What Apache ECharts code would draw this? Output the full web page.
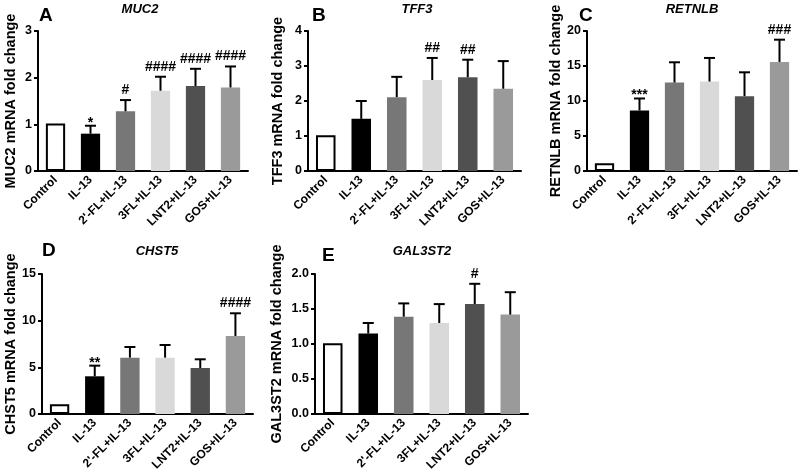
<!DOCTYPE html>
<html>
<head>
<meta charset="utf-8">
<script src="https://cdn.jsdelivr.net/npm/echarts@6/dist/echarts.min.js"></script>
<style>html,body{margin:0;padding:0;background:#fff}#c{width:800px;height:475px}</style>
</head>
<body>
<div id="c"></div>
<script>
const categories = ['Control', 'IL-13', "2'-FL+IL-13", '3FL+IL-13', 'LNT2+IL-13', 'GOS+IL-13'];
const barColors = ['#ffffff', '#000000', '#777777', '#d9d9d9', '#505050', '#9a9a9a'];

const muc2Mean = [1.02, 0.80, 1.28, 1.72, 1.82, 1.79];
const muc2Err  = [0, 0.17, 0.24, 0.30, 0.37, 0.45];
const muc2Sig  = ['', '*', '#', '####', '####', '####'];

const tff3Mean = [1.02, 1.49, 2.11, 2.60, 2.68, 2.35];
const tff3Err  = [0, 0.51, 0.58, 0.63, 0.50, 0.79];
const tff3Sig  = ['', '', '', '##', '##', ''];

const retnlbMean = [1.09, 8.65, 12.64, 12.78, 10.69, 15.58];
const retnlbErr  = [0, 1.71, 2.89, 3.37, 3.41, 3.18];
const retnlbSig  = ['', '***', '', '', '', '###'];

const chst5Mean = [1.05, 4.04, 6.04, 6.04, 4.93, 8.36];
const chst5Err  = [0, 1.14, 1.14, 1.35, 0.93, 2.43];
const chst5Sig  = ['', '**', '', '', '', '####'];

const gal3st2Mean = [1.01, 1.15, 1.39, 1.30, 1.57, 1.42];
const gal3st2Err  = [0, 0.15, 0.19, 0.27, 0.29, 0.32];
const gal3st2Sig  = ['', '', '', '', '#', ''];

const panels = [
  {letter: 'A', gene: 'MUC2', yName: 'MUC2 mRNA fold change', mean: muc2Mean, err: muc2Err, sig: muc2Sig, max: 3, interval: 1, dec: 0, gap: 20,
   grid: {left: 38, top: 31, width: 210, height: 140}, letterPos: [39, 6], genePos: [140, 3]},
  {letter: 'B', gene: 'TFF3', yName: 'TFF3 mRNA fold change', mean: tff3Mean, err: tff3Err, sig: tff3Sig, max: 4, interval: 1, dec: 0, gap: 23,
   grid: {left: 308, top: 31, width: 213, height: 140}, letterPos: [312, 6], genePos: [417, 3]},
  {letter: 'C', gene: 'RETNLB', yName: 'RETNLB mRNA fold change', mean: retnlbMean, err: retnlbErr, sig: retnlbSig, max: 20, interval: 5, dec: 0, gap: 24,
   grid: {left: 587, top: 31, width: 210, height: 140}, letterPos: [579, 6], genePos: [692, 3]},
  {letter: 'D', gene: 'CHST5', yName: 'CHST5 mRNA fold change', mean: chst5Mean, err: chst5Err, sig: chst5Sig, max: 15, interval: 5, dec: 0, gap: 24,
   grid: {left: 42, top: 274, width: 211, height: 140}, letterPos: [42, 241], genePos: [157, 245]},
  {letter: 'E', gene: 'GAL3ST2', yName: 'GAL3ST2 mRNA fold change', mean: gal3st2Mean, err: gal3st2Err, sig: gal3st2Sig, max: 2, interval: 0.5, dec: 1, gap: 31,
   grid: {left: 315, top: 274, width: 213, height: 140}, letterPos: [322, 246], genePos: [422, 245]}
];

const FONT = 'Arial, "Liberation Sans", Helvetica, sans-serif';
const grids = [], xAxes = [], yAxes = [], series = [], titles = [];

panels.forEach((p, i) => {
  grids.push(Object.assign({outerBoundsMode: 'none', containLabel: false}, p.grid));
  xAxes.push({
    type: 'category', gridIndex: i, data: categories,
    axisLine: {lineStyle: {color: '#000', width: 2}},
    axisTick: {alignWithLabel: true, length: 5, lineStyle: {color: '#000', width: 2}},
    axisLabel: {rotate: 45, margin: 7, color: '#000', fontWeight: 'bold', fontSize: 12, fontFamily: FONT, interval: 0}
  });
  yAxes.push({
    type: 'value', gridIndex: i, min: 0, max: p.max, interval: p.interval,
    name: p.yName, nameLocation: 'middle', nameGap: p.gap,
    nameTextStyle: {color: '#000', fontWeight: 'bold', fontSize: 14.5, fontFamily: FONT},
    axisLine: {show: true, lineStyle: {color: '#000', width: 2}},
    axisTick: {show: true, length: 4, lineStyle: {color: '#000', width: 2}},
    splitLine: {show: false},
    axisLabel: {margin: 6, color: '#000', fontWeight: 'bold', fontSize: 12.5, fontFamily: FONT,
      formatter: v => v.toFixed(p.dec)}
  });
  series.push({
    type: 'bar', xAxisIndex: i, yAxisIndex: i, barWidth: '55%',
    data: p.mean.map((v, k) => ({
      value: v,
      itemStyle: {color: barColors[k], borderColor: k === 0 ? '#000' : barColors[k], borderWidth: k === 0 ? 2 : 0}
    }))
  });
  const sig = p.sig;
  series.push({
    type: 'custom', xAxisIndex: i, yAxisIndex: i, z: 5,
    data: p.mean.map((v, k) => [k, v, v + p.err[k]]),
    renderItem: function (params, api) {
      const x = api.value(0), m = api.value(1), t = api.value(2);
      const p0 = api.coord([x, m]);
      const p1 = api.coord([x, t]);
      const children = [];
      if (t > m) {
        children.push({type: 'line', shape: {x1: p0[0], y1: p0[1], x2: p1[0], y2: p1[1]}, style: {stroke: '#000', lineWidth: 2}});
        children.push({type: 'line', shape: {x1: p1[0] - 5.5, y1: p1[1], x2: p1[0] + 5.5, y2: p1[1]}, style: {stroke: '#000', lineWidth: 2}});
      }
      const s = sig[params.dataIndex];
      if (s) {
        const star = s.indexOf('*') >= 0;
        children.push({type: 'text', x: p1[0], y: p1[1] - (star ? -4 : 3),
          style: {text: s, fill: '#000', font: 'bold 14px ' + FONT, align: 'center', verticalAlign: 'bottom'}});
      }
      return {type: 'group', children: children};
    }
  });
  titles.push({text: p.letter, left: p.letterPos[0], top: p.letterPos[1], padding: 0,
    textStyle: {fontSize: 19, fontWeight: 'bold', color: '#000', fontFamily: FONT}});
  titles.push({text: p.gene, left: p.genePos[0], top: p.genePos[1], padding: 0, textAlign: 'center',
    textStyle: {fontSize: 13, fontWeight: 'bold', fontStyle: 'italic', color: '#000', fontFamily: FONT}});
});

const chart = echarts.init(document.getElementById('c'), null, {renderer: 'canvas'});
chart.setOption({
  animation: false,
  backgroundColor: '#fff',
  title: titles,
  grid: grids,
  xAxis: xAxes,
  yAxis: yAxes,
  series: series
});
</script>
</body>
</html>
